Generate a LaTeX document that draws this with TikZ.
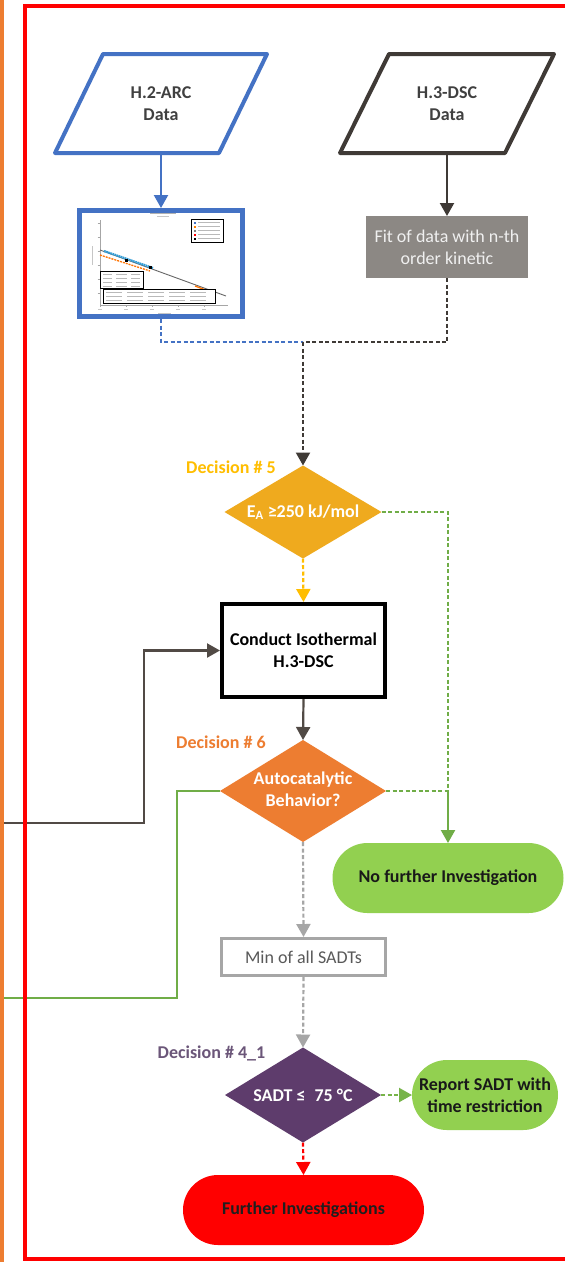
\documentclass[tikz,border=0pt]{standalone}
\usepackage{fontspec}
\setmainfont{Carlito}
\usetikzlibrary{arrows.meta,shapes.geometric,calc}

\definecolor{arcblue}{HTML}{4472C4}
\definecolor{dscbrown}{HTML}{3F3A36}
\definecolor{darkline}{HTML}{514A45}
\definecolor{fitgray}{HTML}{8C8884}
\definecolor{fittext}{HTML}{F0F0F0}
\definecolor{goldfill}{HTML}{EFAA1E}
\definecolor{goldtext}{HTML}{FFBE00}
\definecolor{orangefill}{HTML}{ED7D31}
\definecolor{grnline}{HTML}{70AD47}
\definecolor{grnfill}{HTML}{92D050}
\definecolor{sadtgray}{HTML}{A6A6A6}
\definecolor{mintext}{HTML}{595959}
\definecolor{purplefill}{HTML}{5E3C6C}
\definecolor{purpletext}{HTML}{6B5679}
\definecolor{datatext}{HTML}{404040}
\definecolor{frameorange}{HTML}{ED7D31}
\definecolor{framered}{HTML}{FF0000}

\tikzset{
  every node/.style={font=\fontsize{18}{22}\selectfont},
  conn/.style={line width=2.2pt},
  tip/.style={-{Triangle[length=13pt,width=14pt]}},
  dashpat/.style={dash pattern=on 4pt off 2.5pt},
  datanode/.style={minimum width=212pt, minimum height=99pt, inner sep=0pt,
    outer sep=0pt, align=center, text=datatext, font=\fontsize{18}{22}\selectfont\bfseries},
  decision/.style={diamond, inner sep=0pt, outer sep=0pt, text=white,
    font=\fontsize{18}{22}\selectfont\bfseries},
  pill/.style={rectangle, rounded corners=35pt, minimum height=70pt, inner sep=0pt,
    outer sep=0pt, fill=grnfill, align=center, text=black!90,
    font=\fontsize{18}{22}\selectfont\bfseries},
  declabel/.style={font=\fontsize{18}{22}\selectfont\bfseries, inner sep=0pt},
  chartline/.style={gray!60, line width=0.7pt}
}

\begin{document}
\begin{tikzpicture}[x=1pt, y=-1pt]
\clip (0,0) rectangle (565,1262);
\fill[white] (0,0) rectangle (565,1262);

% ---------- input data ----------
\node[datanode] (h2) at (161,103.5) {H.2-ARC\\Data};
\draw[arcblue, line width=4pt, line join=round]
  ($(h2.north west)+(48,0)$) -- (h2.north east) -- ($(h2.south east)+(-48,0)$)
  -- (h2.south west) -- cycle;

\node[datanode, minimum width=214pt] (h3) at (447,103.5) {H.3-DSC\\Data};
\draw[dscbrown, line width=4pt, line join=round]
  ($(h3.north west)+(49,0)$) -- (h3.north east) -- ($(h3.south east)+(-49,0)$)
  -- (h3.south west) -- cycle;

% ---------- ARC plot thumbnail ----------
\node[draw=arcblue, line width=5pt, minimum width=163pt, minimum height=106pt,
      inner sep=0pt, fill=white] (img) at (161,263.5) {};
\draw[gray!60, line width=0.8pt] (150,213) -- (176,213);
\draw[gray!45, line width=0.6pt] (157,216.5) -- (169,216.5);
\draw[gray!70, line width=0.5pt] (100,220) -- (100,305) -- (228,305);
\foreach \yy in {223,237,251,265,279,293}
  \draw[gray!70, line width=0.4pt] (97.5,\yy) -- (100,\yy);
\foreach \xx in {100,126,152,178,204}
  {\draw[gray!70, line width=0.4pt] (\xx,305) -- (\xx,307);
   \draw[gray!45, line width=0.6pt] (\xx-2,309) -- (\xx+2,309);}
\draw[gray!45, line width=0.8pt] (158,313) -- (171,313);
\draw[gray!45, line width=0.8pt] (92,246) -- (92,265);
\draw[gray!80!black, line width=0.9pt] (100,250) -- (226,296);
\draw[orange!90!red, line width=1.3pt, dash pattern=on 2pt off 1pt] (100,255) -- (150,271);
\draw[arcblue!70!cyan, line width=2.2pt, dash pattern=on 1.6pt off 0.6pt] (104,251) -- (153,268);
\draw[orange!90!red, line width=1.3pt] (195,286) -- (207,290.5);
\fill[black] (125,258.5) rectangle +(3,3);
\fill[black] (149,265.5) rectangle +(3,3);
\draw[black, line width=0.6pt, fill=white] (191,219) rectangle (223,242);
\foreach \yy/\cc in {222.5/arcblue, 226.5/orange, 230.5/gray, 234.5/red, 238.5/black}
  {\fill[\cc] (193.5,\yy-1) rectangle +(2,2);
   \draw[gray!55, line width=0.7pt] (198,\yy) -- (220,\yy);}
\draw[black, line width=0.8pt, fill=white] (100,271) rectangle (143,288);
\foreach \yy in {274.5,278.5,282.5,286}
  {\draw[gray!55, line width=0.7pt] (103,\yy) -- (112,\yy);
   \draw[gray!55, line width=0.7pt] (116,\yy) -- (127,\yy);
   \draw[gray!55, line width=0.7pt] (131,\yy) -- (140,\yy);}
\draw[black, line width=0.8pt, fill=white] (103,289) rectangle (215,303);
\foreach \yy in {292.5,296.5,300.5}
  \foreach \xx in {106,127,148,169,190}
    \draw[gray!55, line width=0.7pt] (\xx,\yy) -- (\xx+16,\yy);

% ---------- DSC fit ----------
\node[fill=fitgray, minimum width=162pt, minimum height=62pt, inner sep=0pt,
      outer sep=0pt, text=fittext, align=center] (fit) at (447,247)
  {Fit of data with n-th\\order kinetic};

% ---------- decisions and steps ----------
\node[decision, fill=goldfill, minimum width=157pt, minimum height=93pt] (d5) at (303,512)
  {\makebox[0pt]{E\textsubscript{A} ≥250 kJ/mol}};
\node[declabel, text=goldtext] (l5) at (231,467) {Decision \# 5};

\node[draw=black, line width=4pt, minimum width=163pt, minimum height=93pt,
      inner sep=0pt, align=center, font=\fontsize{18}{22}\selectfont\bfseries]
  (iso) at (303.5,650.5) {Conduct Isothermal\\H.3-DSC};

\node[decision, fill=orangefill, minimum width=166pt, minimum height=102pt] (d6) at (303,791)
  {\makebox[0pt]{\begin{tabular}{@{}c@{}}Autocatalytic\\Behavior?\end{tabular}}};
\node[declabel, text=orangefill] (l6) at (221,742) {Decision \# 6};

\node[pill, minimum width=231pt] (nf) at (448,878) {No further Investigation};

\node[draw=sadtgray, line width=3pt, minimum width=164pt, minimum height=37pt,
      inner sep=0pt, text=mintext] (mn) at (303.5,957) {Min of all SADTs};

\node[decision, fill=purplefill, minimum width=156pt, minimum height=95pt] (d41) at (303,1095)
  {\makebox[0pt]{SADT ≤\enspace 75 °C}};
\node[declabel, text=purpletext] (l41) at (211.5,1053) {Decision \# 4\_1};

\node[pill, minimum width=146pt] (rep) at (485,1095) {Report SADT with\\time restriction};
\node[pill, fill=framered, minimum width=241pt, text=black!88] (fi) at (303.5,1210)
  {Further Investigations};

% ---------- connectors ----------
\coordinate (m) at (303,342);
\coordinate (j) at (448,791);
\coordinate (inL) at (0,823);
\coordinate (bendL) at (144,823);
\coordinate (bendG) at (177,998);
\coordinate (outG) at (0,998);

\draw[conn, arcblue, tip] (h2.south) -- (img.north);
\draw[conn, dscbrown, tip] (h3.south) -- (fit.north);
\draw[conn, arcblue, dashpat] (img.south) |- (m);
\draw[conn, dscbrown, dashpat] (fit.south) |- (m);
\draw[conn, dscbrown, dashpat, tip] (m) -- (d5.north);
\draw[conn, goldtext, dashpat, tip] (d5.south) -- (iso.north);
\draw[conn, grnline, dashpat] (d5.east) -| (j);
\draw[conn, grnline, dashpat] (d6.east) -- (j);
\draw[conn, grnline, tip] (j) -- (nf.north);
\draw[conn, darkline, tip] (iso.south) -- (d6.north);
\draw[conn, darkline, tip] (inL) -- (bendL) |- (iso.west);
\draw[conn, grnline] (d6.west) -| (bendG) -- (outG);
\draw[conn, sadtgray, dashpat, tip] (d6.south) -- (mn.north);
\draw[conn, sadtgray, dashpat, tip] (mn.south) -- (d41.north);
\draw[conn, grnline!80!grnfill, dashpat, tip] (d41.east) -- (rep.west);
\draw[conn, framered, dashpat, tip] (d41.south) -- (fi.north);

% ---------- page frame ----------
\draw[frameorange, line width=3.5pt] (2,0) -- (2,1262);
\draw[framered, line width=3.5pt] (580,6) -- (25,6) -- (25,1259) -- (580,1259);
\end{tikzpicture}
\end{document}
